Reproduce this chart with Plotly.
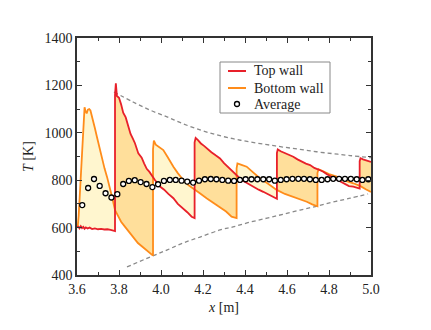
import numpy as np
import plotly.graph_objects as go

# ---------------- data ----------------
top_x = [3.600, 3.606, 3.612, 3.618, 3.624, 3.630, 3.636, 3.642, 3.650, 3.660,
         3.672, 3.685, 3.700, 3.715, 3.730, 3.745, 3.760, 3.772, 3.781, 3.781,
         3.785, 3.790, 3.800, 3.810, 3.820, 3.832, 3.845, 3.855, 3.866, 3.876,
         3.892, 3.908, 3.920, 3.932, 3.945, 3.958, 3.971, 3.995, 4.015, 4.035,
         4.059, 4.080, 4.106, 4.125, 4.146, 4.160, 4.160, 4.165, 4.175, 4.190,
         4.205, 4.217, 4.240, 4.260, 4.281, 4.300, 4.320, 4.344, 4.365, 4.385,
         4.405, 4.424, 4.445, 4.465, 4.487, 4.510, 4.530, 4.552, 4.552, 4.556,
         4.570, 4.590, 4.610, 4.630, 4.650, 4.670, 4.690, 4.710, 4.730, 4.750,
         4.773, 4.790, 4.810, 4.830, 4.852, 4.870, 4.895, 4.916, 4.935, 4.946,
         4.946, 4.950, 4.962, 4.980, 5.000]
top_T = [602, 604, 597, 606, 598, 603, 595, 601, 596, 600,
         594, 597, 593, 595, 592, 593, 590, 588, 585, 1160,
         1209, 1155, 1148, 1120, 1085, 1065, 1026, 995, 975, 956,
         913, 895, 870, 848, 835, 815, 801, 773, 760, 742,
         724, 700, 681, 665, 646, 640, 960, 978, 970, 955,
         945, 935, 918, 905, 892, 872, 855, 836, 815, 800,
         790, 780, 770, 760, 751, 740, 730, 722, 915, 930,
         922, 915, 905, 899, 888, 878, 870, 864, 852, 845,
         836, 825, 815, 805, 794, 785, 775, 773, 768, 765,
         880, 893, 888, 882, 877]

bot_x = [3.600, 3.604, 3.608, 3.612, 3.618, 3.624, 3.628, 3.632, 3.636, 3.641,
         3.646, 3.652, 3.658, 3.664, 3.670, 3.676, 3.685, 3.695, 3.707, 3.719,
         3.731, 3.743, 3.755, 3.767, 3.781, 3.795, 3.810, 3.829, 3.850, 3.870,
         3.890, 3.910, 3.930, 3.945, 3.962, 3.962, 3.966, 3.975, 3.990, 4.011,
         4.030, 4.045, 4.059, 4.080, 4.106, 4.130, 4.154, 4.185, 4.217, 4.250,
         4.281, 4.310, 4.336, 4.360, 4.360, 4.364, 4.380, 4.408, 4.440, 4.471,
         4.510, 4.551, 4.590, 4.630, 4.660, 4.694, 4.720, 4.745, 4.745, 4.750,
         4.770, 4.800, 4.837, 4.870, 4.916, 4.950, 4.975, 5.000]
bot_T = [598, 610, 650, 720, 800, 870, 960, 1060, 1108, 1090,
         1082, 1098, 1100, 1094, 1075, 1054, 1020, 982, 935, 885,
         850, 814, 775, 729, 674, 650, 625, 603, 580, 555,
         535, 520, 505, 492, 482, 930, 967, 950, 940, 927,
         900, 875, 857, 830, 801, 780, 766, 745, 724, 705,
         688, 668, 646, 640, 850, 871, 866, 857, 832, 808,
         785, 759, 742, 730, 720, 709, 698, 690, 830, 846,
         838, 826, 815, 800, 787, 775, 762, 750]

avg_x = [3.625, 3.653, 3.681, 3.708, 3.736, 3.764, 3.792, 3.820, 3.847, 3.875,
         3.903, 3.931, 3.959, 3.986, 4.014, 4.042, 4.070, 4.098, 4.125, 4.153,
         4.181, 4.209, 4.237, 4.264, 4.292, 4.320, 4.348, 4.376, 4.403, 4.431,
         4.459, 4.487, 4.515, 4.542, 4.570, 4.598, 4.626, 4.654, 4.681, 4.709,
         4.737, 4.765, 4.793, 4.820, 4.848, 4.876, 4.904, 4.932, 4.959, 4.987]
avg_T = [695, 767, 805, 776, 745, 727, 741, 784, 797, 800,
         792, 784, 771, 783, 797, 801, 801, 798, 794, 790,
         798, 804, 805, 804, 801, 798, 797, 801, 804, 804,
         804, 804, 804, 798, 801, 804, 806, 806, 806, 804,
         801, 801, 804, 806, 806, 806, 806, 804, 801, 804]

env_up_x = [3.776, 3.867, 3.950, 4.029, 4.100, 4.186, 4.262, 4.343, 4.420, 4.505,
            4.580, 4.662, 4.740, 4.819, 4.900, 5.000]
env_up_T = [1172, 1130, 1095, 1067, 1040, 1012, 992, 975, 962, 950,
            940, 930, 920, 912, 904, 895]
env_lo_x = [3.838, 3.948, 4.030, 4.105, 4.186, 4.281, 4.343, 4.420, 4.505, 4.580,
            4.662, 4.740, 4.819, 4.900, 4.986]
env_lo_T = [434, 476, 506, 535, 560, 590, 603, 622, 640, 656,
            674, 690, 708, 724, 742]

# segment boundaries (where one wall jumps)
seg_bounds = [3.600, 3.781, 3.962, 4.160, 4.360, 4.552, 4.745, 4.946, 5.000]

legend_labels = ["Top wall", "Bottom wall", "Average"]

RED = "#e8202a"
ORANGE = "#ff8c1a"
FILL_LIGHT = "#fff6cf"
FILL_DARK = "#ffdf9b"
FONT = "Liberation Serif, Times New Roman, DejaVu Serif, serif"
TXT = "#222222"


def segment(xs, ys, a, b):
    xs = np.asarray(xs, float)
    ys = np.asarray(ys, float)
    at_a = np.where(np.isclose(xs, a))[0]
    at_b = np.where(np.isclose(xs, b))[0]
    ya = ys[at_a[-1]] if len(at_a) else np.interp(a, xs, ys)
    yb = ys[at_b[0]] if len(at_b) else np.interp(b, xs, ys)
    mask = (xs > a + 1e-9) & (xs < b - 1e-9)
    sx = [a] + list(xs[mask]) + [b]
    sy = [ya] + list(ys[mask]) + [yb]
    return sx, sy


fig = go.Figure()

for k in range(len(seg_bounds) - 1):
    a, b = seg_bounds[k], seg_bounds[k + 1]
    tx, ty = segment(top_x, top_T, a, b)
    bx, by = segment(bot_x, bot_T, a, b)
    color = FILL_LIGHT if k % 2 == 0 else FILL_DARK
    fig.add_trace(go.Scatter(x=tx, y=ty, mode="lines", line=dict(width=0),
                             showlegend=False, hoverinfo="skip"))
    fig.add_trace(go.Scatter(x=bx, y=by, mode="lines", line=dict(width=0),
                             fill="tonexty", fillcolor=color,
                             showlegend=False, hoverinfo="skip"))

for ex, ey in ((env_up_x, env_up_T), (env_lo_x, env_lo_T)):
    fig.add_trace(go.Scatter(x=ex, y=ey, mode="lines", line_shape="spline",
                             line=dict(color="#8a8a8a", width=1.3, dash="4px,3px"),
                             showlegend=False, hoverinfo="skip"))

fig.add_trace(go.Scatter(x=bot_x, y=bot_T, mode="lines", name=legend_labels[1],
                         line=dict(color=ORANGE, width=1.8), showlegend=False))
fig.add_trace(go.Scatter(x=top_x, y=top_T, mode="lines", name=legend_labels[0],
                         line=dict(color=RED, width=1.8), showlegend=False))
fig.add_trace(go.Scatter(x=avg_x, y=avg_T, mode="markers", name=legend_labels[2],
                         showlegend=False,
                         marker=dict(symbol="circle", size=5, color="white",
                                     line=dict(color="black", width=1.3))))

axis_common = dict(
    showline=True, linecolor="#333333", linewidth=1.5, mirror="ticks",
    ticks="inside", ticklen=5, tickwidth=1, tickcolor="#333333",
    showgrid=False, zeroline=False,
    tickfont=dict(family=FONT, size=14, color=TXT),
)

fig.update_xaxes(range=[3.6, 5.0], dtick=0.2, tickformat=".1f",
                 minor=dict(ticks="inside", ticklen=3, dtick=0.1, tickcolor="#333333"),
                 title=dict(text="<i>x</i> [m]", font=dict(family=FONT, size=14, color=TXT),
                            standoff=7),
                 **axis_common)
fig.update_yaxes(range=[400, 1400], dtick=200,
                 minor=dict(ticks="inside", ticklen=3, dtick=100, tickcolor="#333333"),
                 title=dict(text="<i>T</i> [K]", font=dict(family=FONT, size=14, color=TXT),
                            standoff=8),
                 **axis_common)

# ---- hand-built legend box (paper coordinates) ----
PL, PW, PT, PH = 77, 294, 38, 237   # plot-area pixel frame (page coords)


def px_x(p):
    return (p - PL) / PW


def px_y(p):
    return (PT + PH - p) / PH


shapes = [dict(type="rect", xref="paper", yref="paper",
               x0=px_x(220), x1=px_x(330), y0=px_y(113), y1=px_y(62),
               line=dict(color="#888888", width=1), fillcolor="white", layer="above")]
rows = [71, 88, 104]
for color, ry in ((RED, rows[0]), (ORANGE, rows[1])):
    shapes.append(dict(type="line", xref="paper", yref="paper",
                       x0=px_x(228), x1=px_x(246), y0=px_y(ry), y1=px_y(ry),
                       line=dict(color=color, width=2), layer="above"))
shapes.append(dict(type="circle", xref="paper", yref="paper",
                   xsizemode="pixel", ysizemode="pixel",
                   xanchor=px_x(237), yanchor=px_y(rows[2]),
                   x0=-2.5, x1=2.5, y0=-2.5, y1=2.5,
                   line=dict(color="black", width=1.3), fillcolor="white", layer="above"))

annotations = [dict(text=lab, xref="paper", yref="paper", x=px_x(252), y=px_y(ry),
                    xanchor="left", yanchor="middle", showarrow=False,
                    font=dict(family=FONT, size=14, color=TXT))
               for lab, ry in zip(legend_labels, rows)]

# page body has an 8px margin, so the figure is sized/offset to land the plot
# area at the reference position inside the 431x330 window
fig.update_layout(
    width=423, height=322,
    margin=dict(l=69, r=60, t=30, b=55),
    paper_bgcolor="white", plot_bgcolor="white",
    font=dict(family=FONT, size=14, color=TXT),
    showlegend=False,
    shapes=shapes,
    annotations=annotations,
)

fig.write_html("out.html")
